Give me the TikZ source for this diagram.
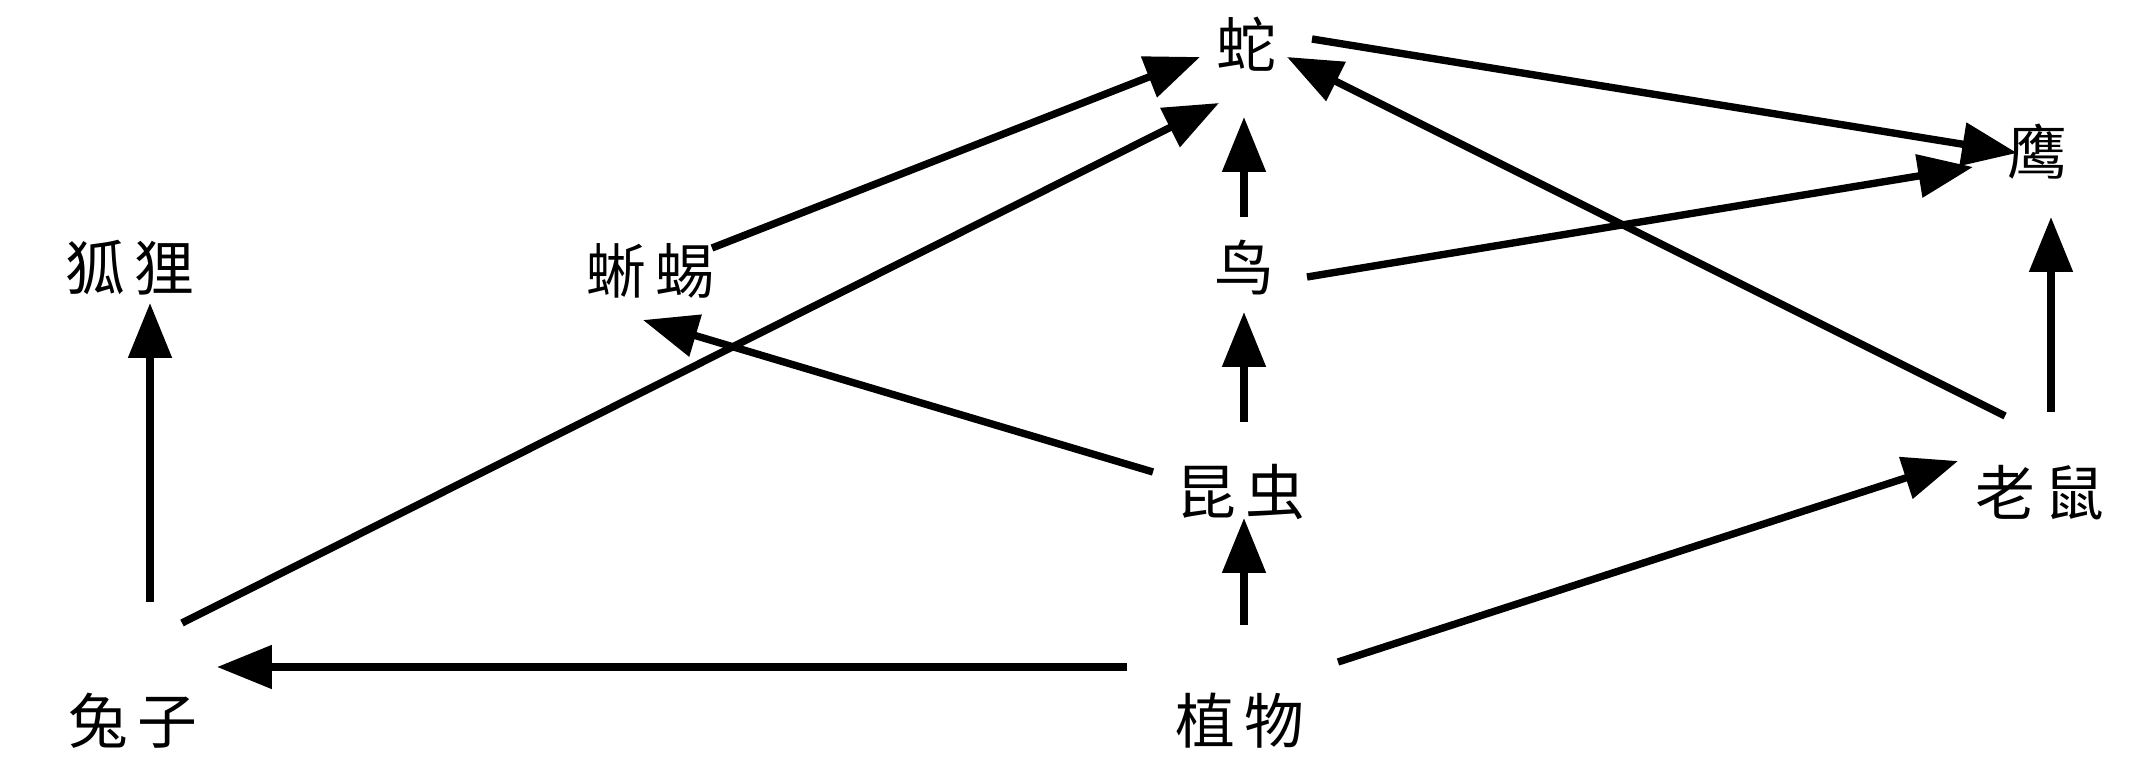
\documentclass[tikz,border=0pt]{standalone}
\usepackage{fontspec}
\newfontfamily\cjk{Noto Sans CJK SC}
\usetikzlibrary{arrows.meta}

\begin{document}
\begin{tikzpicture}[x=0.01cm, y=-0.01cm,
    especie/.style={font=\cjk\fontsize{17pt}{17pt}\selectfont, inner sep=0pt},
    flecha/.style={line width=2.1pt, -{Triangle[length=15.6pt, width=12pt]}}]
    % marco
    \useasboundingbox (0,0) rectangle (2156,782);

    % 物种
    \foreach \name/\x/\y/\txt in {
        she/1246/44/{蛇},
        ying/2037/152/{鹰},
        huli/130/268/{狐\,狸},
        xiyi/651/271/{蜥\,蜴},
        niao/1244/268/{鸟},
        kunchong/1241/492/{昆\,虫},
        laoshu/2040/493/{老\,鼠},
        tuzi/133/721/{兔\,子},
        zhiwu/1240/721/{植\,物}} {
        \node[especie] (\name) at (\x,\y) {\txt};
    }

    % 食物链
    \foreach \from/\fx/\fy/\to/\tx/\ty in {
        tuzi/17/-119/huli/20/35,
        tuzi/49/-98/she/-27/59,
        xiyi/61/-23/she/-46/13,
        kunchong/-88/-20/xiyi/-8/49,
        niao/0/-51/she/-2/73,
        kunchong/3/-70/niao/0/44,
        zhiwu/4/-96/kunchong/3/26,
        zhiwu/-113/-54/tuzi/84/-54,
        zhiwu/98/-59/laoshu/-82/-32,
        laoshu/-35/-77/she/41/13,
        laoshu/11/-81/ying/14/65,
        she/66/-5/ying/-20/1,
        niao/63/9/ying/-64/15} {
        \draw[flecha] ([shift={(\fx,\fy)}]\from.center) -- ([shift={(\tx,\ty)}]\to.center);
    }
\end{tikzpicture}
\end{document}
